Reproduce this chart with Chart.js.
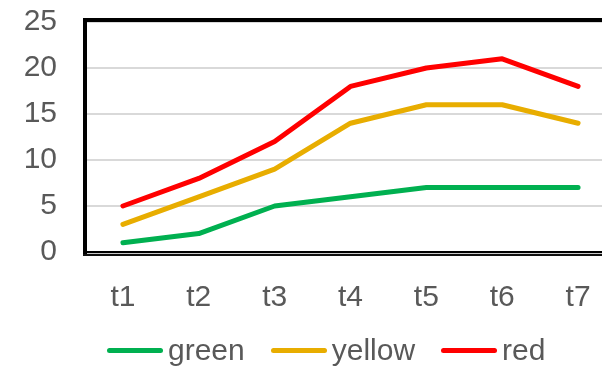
<!DOCTYPE html>
<html>
<head>
<meta charset="utf-8">
<script src="https://cdn.jsdelivr.net/npm/chart.js@4/dist/chart.umd.min.js"></script>
<style>
  html, body { margin: 0; padding: 0; background: #fff; }
  #wrap { position: relative; width: 602px; height: 366px; overflow: hidden; }
  #chart { position: absolute; left: 0; top: 0; }
  #legend { position: absolute; left: 107px; top: 333px; display: flex; align-items: center;
            font-family: "Liberation Sans", Arial, sans-serif; font-size: 30px; color: #595959; white-space: nowrap; }
  .item { display: flex; align-items: center; margin-right: 26px; }
  .swatch { width: 56px; height: 5px; border-radius: 3px; margin-right: 5px; }
</style>
</head>
<body>
<div id="wrap">
  <canvas id="chart" width="640" height="366" style="width:640px;height:366px"></canvas>
  <div id="legend"></div>
</div>
<script>
const categories = ['t1', 't2', 't3', 't4', 't5', 't6', 't7'];
const seriesNames = ['green', 'yellow', 'red'];
const seriesColors = ['#00b050', '#e8ad00', '#ff0000'];
const greenValues = [1, 2, 5, 6, 7, 7, 7];
const yellowValues = [3, 6, 9, 14, 16, 16, 14];
const redValues = [5, 8, 12, 18, 20, 21, 18];
const yTicks = [0, 5, 10, 15, 20, 25];

const values = [greenValues, yellowValues, redValues];
const textColor = '#595959';
const font = { family: '"Liberation Sans", Arial, sans-serif', size: 30 };

// plot frame: thick black box, bottom drawn as double line
const framePlugin = {
    id: 'frame',
    afterDraw(chart) {
        const { ctx, chartArea: a } = chart;
        ctx.save();
        ctx.fillStyle = '#000';
        ctx.fillRect(a.left - 2, a.top - 4, a.right - a.left + 4, 4);
        ctx.fillRect(a.left - 2, a.top - 4, 4, a.bottom - a.top + 7);
        ctx.fillRect(a.right - 2, a.top - 4, 4, a.bottom - a.top + 7);
        ctx.fillRect(a.left - 2, a.bottom - 1, a.right - a.left + 4, 2);
        ctx.fillStyle = '#c8c8c8';
        ctx.fillRect(a.left + 2, a.bottom + 1, a.right - a.left - 4, 1);
        ctx.fillStyle = '#111';
        ctx.fillRect(a.left - 2, a.bottom + 2, a.right - a.left + 4, 2);
        ctx.restore();
    }
};

const chart = new Chart(document.getElementById('chart').getContext('2d'), {
    type: 'line',
    data: {
        labels: categories,
        datasets: seriesNames.map((name, i) => ({
            label: name,
            data: values[i],
            borderColor: seriesColors[i],
            backgroundColor: seriesColors[i],
            borderWidth: 5,
            borderCapStyle: 'round',
            borderJoinStyle: 'round',
            pointRadius: 0,
            tension: 0,
            fill: false
        }))
    },
    options: {
        responsive: false,
        animation: false,
        layout: { padding: { left: 0, right: 24, top: 22, bottom: 0 } },
        plugins: { legend: { display: false }, tooltip: { enabled: false } },
        scales: {
            x: {
                offset: true,
                grid: { display: false },
                border: { display: false },
                ticks: { color: textColor, font, padding: 20, maxRotation: 0 },
                afterFit(scale) { scale.height = 114; scale.paddingLeft = 0; scale.paddingRight = 0; }
            },
            y: {
                min: 0,
                max: 25,
                afterBuildTicks(scale) { scale.ticks = yTicks.map(v => ({ value: v })); },
                grid: { color: '#d9d9d9', lineWidth: 2, drawTicks: false },
                border: { display: false },
                ticks: { color: textColor, font, padding: 28 },
                afterFit(scale) { scale.width = 85; scale.paddingTop = 0; scale.paddingBottom = 0; }
            }
        }
    },
    plugins: [framePlugin]
});

const legend = document.getElementById('legend');
seriesNames.forEach((name, i) => {
    const item = document.createElement('div');
    item.className = 'item';
    item.innerHTML = `<span class="swatch" style="background:${seriesColors[i]}"></span><span>${name}</span>`;
    legend.appendChild(item);
});
</script>
</body>
</html>
